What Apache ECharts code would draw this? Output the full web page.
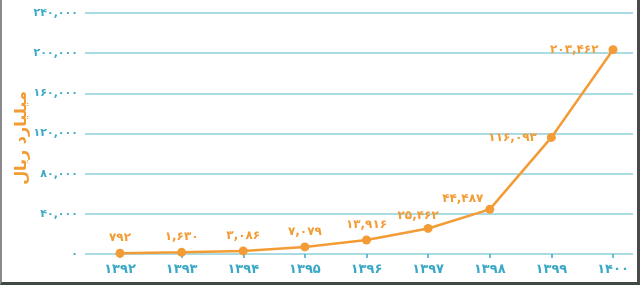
<!DOCTYPE html>
<html>
<head>
<meta charset="utf-8">
<script src="https://cdn.jsdelivr.net/npm/echarts@6/dist/echarts.min.js"></script>
<style>
html,body{margin:0;padding:0;background:#fff;}
#wrap{position:relative;width:640px;height:285px;overflow:hidden;}
#chart{width:640px;height:285px;}
#frame{position:absolute;left:0;top:0;width:640px;height:285px;box-sizing:border-box;border-left:2px solid #8a8a8a;border-right:3px solid #4a4a4a;border-bottom:3px solid #3d4a42;pointer-events:none;}
</style>
</head>
<body>
<div id="wrap"><div id="chart"></div><div id="frame"></div></div>
<script>
const categories = ['۱۳۹۲','۱۳۹۳','۱۳۹۴','۱۳۹۵','۱۳۹۶','۱۳۹۷','۱۳۹۸','۱۳۹۹','۱۴۰۰'];
const values = [792, 1630, 3086, 7079, 13916, 25462, 44487, 116093, 203462];
const yTicks = [0, 40000, 80000, 120000, 160000, 200000, 240000];
const yAxisName = 'میلیارد ریال';

const faDigits = '۰۱۲۳۴۵۶۷۸۹';
function toFa(n){
  return n.toLocaleString('en-US').replace(/[0-9]/g, d => faDigits[+d]);
}

const TEAL = '#3aa9c6';
const GRID = '#8fcfd8';
const ORANGE = '#f39c35';
const FONT = 'DejaVu Sans';

const labelPos = [
  {position:'top', distance:5},
  {position:'top', distance:5},
  {position:'top', distance:5},
  {position:'top', distance:5},
  {position:'top', distance:5},
  {position:'top', distance:2, offset:[-10,0]},
  {position:'top', distance:0, offset:[-27,0]},
  {position:'left', distance:10},
  {position:'left', distance:10}
];

const chart = echarts.init(document.getElementById('chart'), null, {renderer:'canvas'});
chart.setOption({
  animation:false,
  grid:[
    {left:85, right:7, top:13, bottom:31},
    {left:120, right:27, top:13, bottom:31}
  ],
  graphic:[{
    type:'text', x:22, y:138, rotation:Math.PI/2,
    style:{text:yAxisName, fill:ORANGE, font:'bold 16px "DejaVu Sans"', align:'center', verticalAlign:'middle'}
  }],
  xAxis:[
    {type:'value', gridIndex:0, show:false, min:0, max:1},
    {type:'category', gridIndex:1, data:categories, boundaryGap:false,
     axisLine:{show:false},
     axisTick:{show:true, length:4, lineStyle:{color:TEAL, width:1.5}},
     axisLabel:{color:TEAL, fontFamily:FONT, fontSize:13, fontWeight:'bold', margin:9}}
  ],
  yAxis:[
    {type:'value', gridIndex:0, min:yTicks[0], max:yTicks[yTicks.length-1], interval:40000,
     axisLine:{show:false}, axisTick:{show:false},
     splitLine:{show:true, lineStyle:{color:GRID, width:1.5}},
     axisLabel:{color:TEAL, fontFamily:FONT, fontSize:11, fontWeight:'bold', margin:7, formatter:v=>toFa(v)}},
    {type:'value', gridIndex:1, min:yTicks[0], max:yTicks[yTicks.length-1], show:false}
  ],
  series:[{
    type:'line', xAxisIndex:1, yAxisIndex:1,
    data: values.map((v,i)=>({value:v, label:labelPos[i]})),
    lineStyle:{color:ORANGE, width:2.5},
    itemStyle:{color:ORANGE},
    symbol:'circle', symbolSize:9,
    label:{show:true, color:ORANGE, fontFamily:FONT, fontSize:12, fontWeight:'bold', formatter:p=>toFa(p.value)}
  }]
});
</script>
</body>
</html>
